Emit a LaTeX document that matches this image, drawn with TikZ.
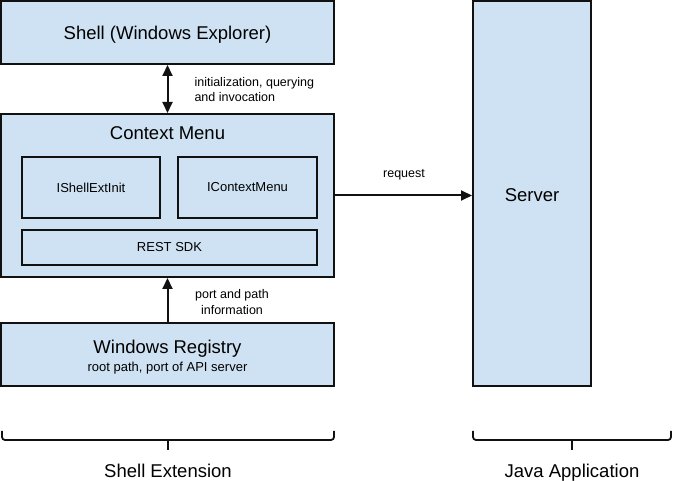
\documentclass[tikz,border=0pt]{standalone}
\usepackage{fontspec}
\setmainfont{Liberation Sans}
\usetikzlibrary{arrows.meta}
\definecolor{boxfill}{HTML}{CFE2F3}
\definecolor{linec}{HTML}{111111}
\tikzset{
  box/.style={draw=linec, fill=boxfill, line width=2pt, rectangle, inner sep=0pt},
  big/.style={font=\fontsize{18.5}{22}\selectfont},
  mid/.style={font=\fontsize{13}{15}\selectfont},
  small/.style={font=\fontsize{12.5}{15.5}\selectfont},
  arr/.style={draw=linec, line width=2pt, -{Triangle[length=11pt,width=10pt]}},
  darr/.style={draw=linec, line width=2pt, {Triangle[length=11pt,width=10pt]}-{Triangle[length=11pt,width=10pt]}},
  bracestyle/.style={draw=linec, line width=1.8pt, rounded corners=3pt},
}
\begin{document}
\begin{tikzpicture}[x=1pt,y=-1pt]
\useasboundingbox (0,0) rectangle (673,481);
% Shell
\node[box, minimum width=333pt, minimum height=63pt] (shell) at (167.5,32.5) {};
\node[big] (shelltxt) at (167.5,35) {Shell (Windows Explorer)};
% Context menu
\node[box, minimum width=333pt, minimum height=163pt] (ctx) at (167.5,195.5) {};
\node[big] (ctxtxt) at (167.5,133) {Context Menu};
\node[box, minimum width=138pt, minimum height=61pt, mid] (init) at (91,187.5) {IShellExtInit};
\node[box, minimum width=139pt, minimum height=61pt, mid] (icm) at (247.5,187.5) {IContextMenu};
\node[box, minimum width=295pt, minimum height=35pt, mid] (rest) at (169.5,247.5) {REST SDK};
% Registry
\node[box, minimum width=333pt, minimum height=63pt] (reg) at (167.5,354.5) {};
\node[big] (regtxt) at (167.5,349) {Windows Registry};
\node[mid] (regsub) at (167.5,368) {root path, port of API server};
% Server
\node[box, minimum width=118pt, minimum height=385pt] (server) at (532,193.5) {};
\node[big] (servertxt) at (532,195) {Server};
% Connectors
\draw[darr] (shell.south) -- (ctx.north);
\node[small, anchor=west, align=left] (lbl1) at (191,89.5) {initialization, querying\\and invocation};
\draw[arr] (reg.north) -- (ctx.south);
\node[small, align=center] (lbl2) at (232,302) {port and path\\information};
\draw[arr] (ctx.east) -- (ctx.east -| server.west);
\node[small] (lbl3) at (404,175) {request};
% Braces
\coordinate (b1a) at (2,431);
\coordinate (b1b) at (334,431);
\draw[bracestyle] (b1a) -- (2,440) -- (334,440) -- (b1b);
\draw[draw=linec, line width=1.8pt] (168,440) -- (168,450);
\node[big, anchor=base] (se) at (168,477.5) {Shell Extension};
\coordinate (b2a) at (473,431);
\coordinate (b2b) at (671,431);
\draw[bracestyle] (b2a) -- (473,440) -- (671,440) -- (b2b);
\draw[draw=linec, line width=1.8pt] (572,440) -- (572,450);
\node[big, anchor=base] (ja) at (572,477.5) {Java Application};
\end{tikzpicture}
\end{document}
